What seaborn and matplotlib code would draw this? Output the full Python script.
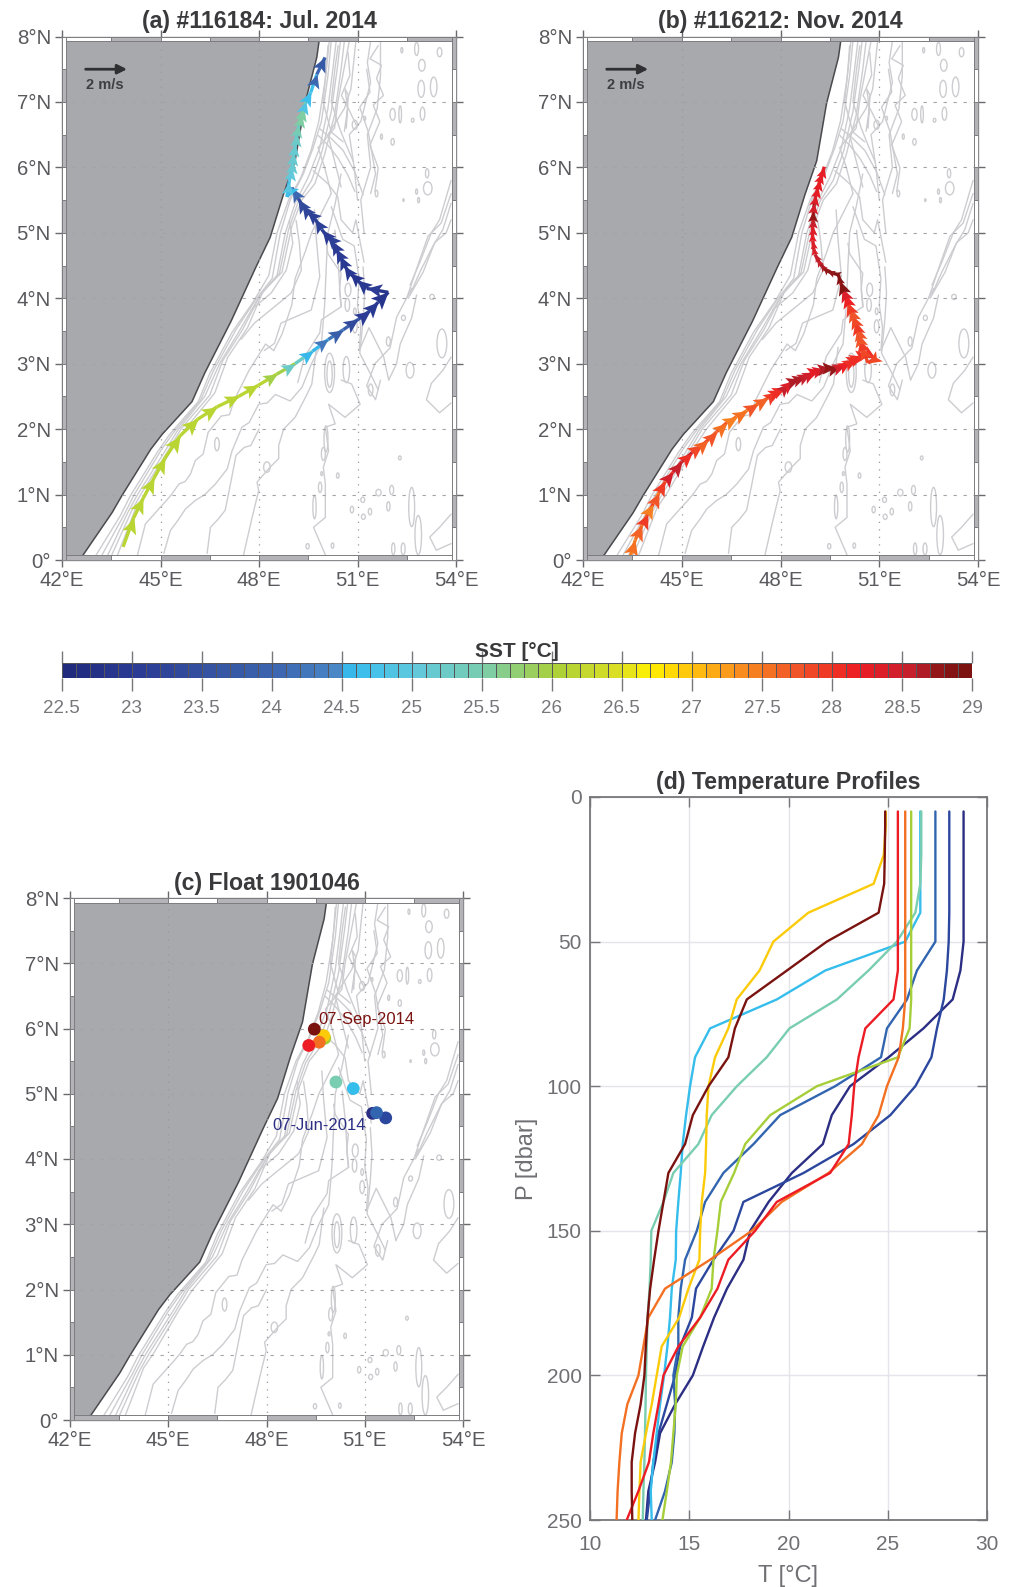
#!/usr/bin/env python3
"""Drifter tracks, float positions and temperature profiles off the Somali coast."""
import matplotlib
matplotlib.use("Agg")
import matplotlib.pyplot as plt
import numpy as np
import pandas as pd
import seaborn as sns
from matplotlib.collections import LineCollection
from matplotlib.colors import BoundaryNorm, LinearSegmentedColormap
from matplotlib.markers import MarkerStyle
from matplotlib.patches import Ellipse, Rectangle
from matplotlib.path import Path
from matplotlib.transforms import Affine2D

sns.set_theme(style="white")
plt.rcParams["font.family"] = ["Liberation Sans", "DejaVu Sans"]

W, H = 1018, 1587
TICK_GREY = "#5a5a5e"
TITLE_GREY = "#3a3a3c"
LAND = "#a8a9ad"
CONTOUR = "#cdcdd1"

# coast line, lon / lat
coast_lon = [42.62, 43.52, 43.82, 44.70, 45.05, 45.96, 46.35, 47.15, 47.90, 48.34, 48.74, 49.10, 49.40, 49.76, 49.83]
coast_lat = [0.06, 0.72, 0.98, 1.69, 1.92, 2.42, 2.86, 3.65, 4.47, 4.93, 5.58, 6.10, 6.98, 7.68, 7.93]

# long depth contours, shelf first, then offshore
c_shelf0 = [(43.02,.06),(43.78,.68),(44.08,.98),(44.92,1.66),(45.28,1.92),(46.15,2.42),(46.5,2.85),(47.18,3.48),(47.82,3.94),(48.3,4.35),(48.55,5.0),(48.9,5.5),(49.28,5.85),(49.58,6.25),(49.82,6.7),(50.02,7.35),(50.14,7.93)]
c_shelf1 = [(43.2,.06),(43.9,.7),(44.2,1.0),(45.02,1.68),(45.4,1.95),(46.22,2.44),(46.62,2.9),(47.3,3.52),(47.9,3.98),(48.4,4.3),(48.65,5.0),(48.95,5.5),(49.35,5.9),(49.65,6.3),(49.9,6.7),(50.1,7.4),(50.2,7.93)]
c_shelf2 = [(43.38,.06),(44.0,.72),(44.3,1.0),(45.12,1.65),(45.52,1.98),(46.35,2.5),(46.8,3.0),(47.4,3.5),(48.0,4.02),(48.55,4.35),(48.8,5.0),(49.1,5.45),(49.5,5.85),(49.85,6.3),(50.1,6.9),(50.25,7.5),(50.35,7.93)]
c_shelf3 = [(43.5,.06),(44.12,.75),(44.42,1.02),(45.22,1.66),(45.62,2.0),(46.5,2.52),(46.9,3.05),(47.5,3.52),(48.05,4.06),(48.62,4.38),(48.9,5.05),(49.2,5.48),(49.6,5.8),(49.92,6.25),(50.2,6.85),(50.38,7.5),(50.48,7.93)]
c_shelf4 = [(43.68,.06),(44.25,.8),(44.55,1.02),(45.35,1.7),(45.75,2.0),(46.65,2.55),(47.05,3.1),(47.65,3.55),(48.12,4.1),(48.7,4.4),(49.0,5.1),(49.3,5.5),(49.7,5.75),(50.0,6.2),(50.3,6.8),(50.5,7.5),(50.6,7.93)]
c_mid1 = [(44.29,.06),(44.54,.55),(45.0,.81),(45.2,.92),(45.35,1.01),(45.56,1.16),(45.75,1.2),(45.91,1.31),(46.06,1.52),(46.3,1.62),(46.45,1.95),(46.85,2.2),(47.1,2.22),(47.25,2.45),(47.7,2.9),(48.2,3.3),(48.45,3.2),(48.7,3.45),(49.0,3.9),(49.1,4.3),(49.4,4.7),(49.6,5.0),(49.9,5.3),(50.2,5.6)]
c_mid2 = [(45.1,.1),(45.3,.45),(45.55,.62),(45.76,.78),(46.06,.91),(46.35,1.0),(46.67,1.16),(47.03,1.39),(47.18,1.67),(47.48,2.03),(47.7,2.1),(47.99,2.38),(48.25,2.4),(48.5,2.53),(48.95,2.43),(49.31,2.64),(49.6,3.0),(49.9,3.3),(50.0,3.9),(50.05,4.5),(50.1,5.0),(50.3,5.4),(50.5,5.9)]
c_mid3 = [(46.42,.1),(46.52,.5),(46.75,.62),(46.97,.76),(47.13,1.16),(47.3,1.6),(47.55,1.72),(47.75,1.75),(48.0,2.0)]
c_mid4 = [(47.53,.08),(47.79,.65),(47.99,1.06),(47.94,1.19),(48.34,1.42),(48.6,1.55),(48.6,1.75),(48.75,2.0),(49.1,2.18),(49.46,2.53),(49.61,2.69),(49.75,3.25)]
c_mid5 = [(50.05,4.84),(50.1,4.68),(50.5,4.38),(50.45,4.13),(50.5,3.87),(49.9,3.67),(49.85,3.47),(49.39,3.11),(49.18,2.71)]
c_mid6 = [(50.2,5.4),(50.55,4.9),(50.9,4.8),(51.05,4.3),(51.0,3.9),(51.1,3.55),(51.05,3.2),(51.35,3.55),(51.5,3.4),(51.8,3.1),(51.95,2.75)]
c_mid7 = [(50.02,.08),(49.66,.5),(50.02,.65),(50.02,1.16),(49.96,1.42),(50.12,1.67),(50.02,2.03),(50.32,2.08),(50.12,2.38),(50.62,2.18),(51.08,2.38),(50.82,2.69),(50.5,2.75)]
c_mid8 = [(48.93,5.19),(49.03,4.84),(48.83,4.43),(48.37,4.08),(47.76,3.82)]
c_mid9 = [(49.13,5.19),(49.23,4.84),(49.29,4.43),(48.98,4.08),(48.47,3.87),(47.86,3.62),(47.45,3.37)]
c_mid10 = [(49.69,5.35),(49.74,4.94),(49.85,4.33),(49.59,3.82),(48.67,3.62),(48.47,3.31),(48.16,3.2)]
c_mid11 = [(50.31,5.04),(50.41,4.58),(50.46,4.13),(50.51,3.87)]
c_mid12 = [(51.17,4.48),(51.22,4.08),(51.17,3.67),(51.07,3.16),(51.43,2.81),(51.63,2.6)]
c_north1 = [(50.2,5.6),(50.0,6.0),(49.8,6.3),(50.3,6.6),(50.4,7.0),(50.55,7.4),(50.75,7.93)]
c_north2 = [(50.5,5.7),(50.3,6.1),(50.1,6.5),(50.6,6.9),(50.8,7.2),(50.95,7.93)]
c_north3 = [(51.0,5.5),(50.9,6.0),(50.75,6.5),(51.1,6.7),(51.4,7.3),(51.3,7.6),(51.4,7.93)]
c_north4 = [(51.2,5.0),(51.1,5.5),(51.4,6.0),(51.3,6.5),(51.6,6.9),(51.7,7.4),(51.7,7.93)]
c_north5 = [(50.6,6.55),(50.7,6.9),(50.62,7.2),(50.72,7.1),(50.66,6.6)]
c_north6 = [(49.65,5.95),(50.1,5.75),(50.4,5.55),(50.5,5.2),(50.85,5.0),(50.95,5.2),(51.2,4.55)]
c_north7 = [(51.28,7.5),(51.38,7.15),(51.07,6.92),(51.33,6.54),(51.43,6.24),(51.55,5.9),(51.4,5.6)]
c_north8 = [(51.63,7.86),(51.38,7.66),(51.73,7.56),(51.58,7.36),(51.79,7.1),(51.48,6.95),(51.68,6.7),(51.38,6.34),(51.63,5.99),(51.53,5.63)]
c_north9 = [(49.8,6.49),(50.1,6.34),(50.41,6.14),(50.71,5.88),(50.92,5.63)]
c_north10 = [(49.85,6.59),(50.2,6.44),(50.56,6.26),(50.92,5.93),(51.17,5.58)]
c_north11 = [(50.1,7.86),(50.05,7.5),(49.95,7.0),(50.2,6.54),(50.56,6.39)]
c_north12 = [(50.41,7.86),(50.31,7.5),(50.2,7.0),(50.46,6.59),(50.66,6.34),(50.87,6.09)]
c_north13 = [(50.71,7.76),(50.77,7.41),(50.51,7.1),(50.77,6.85),(50.97,6.64)]
c_ridge1 = [(52.5,4.0),(52.8,4.45),(53.15,4.95),(53.55,5.15),(53.85,5.6)]
c_ridge2 = [(52.55,4.0),(52.9,4.4),(53.3,4.8),(53.6,5.05),(53.85,5.45)]
c_ridge3 = [(52.6,4.05),(53.0,4.4),(53.35,4.85),(53.7,5.0),(53.85,5.2)]
c_ridge4 = [(52.6,4.2),(52.9,4.55),(53.25,5.0),(53.5,5.2),(53.85,5.8)]
c_spur1 = [(52.65,4.15),(52.19,3.71),(51.99,3.24),(51.53,3.0),(51.28,2.66),(51.55,2.45),(51.7,2.75)]
c_spur2 = [(52.8,4.05),(52.65,3.7),(52.3,3.3),(52.19,3.0),(51.95,2.75)]
c_east1 = [(53.85,3.1),(53.6,2.9),(53.25,2.7),(53.1,2.45),(53.5,2.25),(53.85,2.4)]
c_east2 = [(53.85,.7),(53.5,.5),(53.2,.35),(53.4,.15),(53.85,.25)]
contours = [c_shelf0, c_shelf1, c_shelf2, c_shelf3, c_shelf4, c_mid1, c_mid2, c_mid3, c_mid4, c_mid5, c_mid6, c_mid7,
            c_mid8, c_mid9, c_mid10, c_mid11, c_mid12,
            c_north1, c_north2, c_north3, c_north4, c_north5, c_north6, c_north7, c_north8, c_north9, c_north10,
            c_north11, c_north12, c_north13,
            c_ridge1, c_ridge2, c_ridge3, c_ridge4, c_spur1, c_spur2, c_east1, c_east2]

# closed seamount contours: lon, lat, half width, half height
seamounts = [(52.96,7.56,.1,.09),(52.94,7.2,.1,.13),(53.32,7.23,.1,.15),(53.5,7.76,.07,.07),(52.8,7.81,.06,.1),
             (52.07,6.81,.08,.09),(52.3,6.81,.04,.13),(52.98,6.82,.07,.1),(52.68,6.72,.04,.03),(51.73,6.47,.03,.04),
             (52.07,6.39,.05,.05),(52.35,7.79,.03,.04),(53.12,5.91,.05,.07),(53.14,5.68,.13,.1),(52.8,5.63,.03,.04),
             (51.58,5.6,.04,.05),(52.86,5.5,.03,.04),(52.4,5.5,.02,.02),(50.92,6.65,.08,.07),(51.22,6.75,.03,.03),
             (53.27,4.02,.07,.04),(50.71,4.13,.09,.1),(50.69,3.9,.07,.1),(50.92,3.57,.07,.1),(50.92,3.8,.04,.05),
             (53.57,3.31,.15,.22),(52.4,3.7,.06,.04),(51.94,3.34,.06,.07),(50.15,2.86,.15,.3),(50.15,2.84,.08,.2),
             (50.66,2.91,.1,.2),(50.04,1.85,.06,.2),(49.96,1.62,.06,.1),(49.91,1.32,.03,.03),(50.4,1.29,.04,.04),
             (49.86,1.11,.05,.08),(49.69,.81,.05,.18),(49.48,.21,.05,.04),(50.24,.22,.04,.04),(51.16,.92,.06,.04),
             (51.64,1.03,.08,.05),(52.04,1.07,.06,.07),(50.83,.77,.05,.05),(51.18,.66,.06,.04),(51.38,.74,.05,.05),
             (51.94,.82,.05,.07),(52.09,.17,.05,.09),(52.39,.17,.06,.09),(52.65,.81,.09,.3),(52.85,.38,.1,.3),
             (52.29,1.56,.04,.03),(46.72,1.77,.07,.1),(48.24,1.42,.1,.08),(52.6,2.9,.12,.12),(51.4,2.6,.07,.09)]

# drifter #116184
track_a_lon = [43.86,44.18,44.48,44.81,45.14,45.60,46.13,46.72,47.38,47.98,48.54,49.10,49.63,50.11,50.57,51.03,51.38,51.63,51.94,
               51.28,50.98,50.77,50.60,50.47,50.34,50.21,50.06,49.91,49.71,49.45,49.32,49.20,49.00,48.85,
               48.92,49.00,49.03,49.07,49.11,49.15,49.22,49.30,49.36,49.43,49.58,49.76,50.01]
track_a_lat = [0.20,0.64,0.95,1.26,1.56,1.90,2.15,2.34,2.50,2.67,2.84,3.00,3.19,3.37,3.52,3.68,3.81,3.94,4.09,
               4.15,4.28,4.38,4.50,4.64,4.76,4.88,4.96,5.05,5.21,5.33,5.42,5.52,5.69,5.55,
               5.78,5.99,6.10,6.22,6.36,6.51,6.65,6.80,6.90,7.01,7.15,7.42,7.68]
track_a_sst = [26.1,26.1,26.1,26.1,26.1,26.1,26.1,26.1,26.1,26.1,25.9,25.2,24.5,24.2,23.8,23.3,23.0,22.9,22.8,
               23.0,22.9,22.8,22.9,22.9,23.0,23.0,23.1,23.0,23.1,23.1,23.2,23.3,24.0,24.6,
               24.9,25.0,25.1,25.1,25.1,25.2,25.4,25.5,25.5,24.8,24.6,24.0,23.7]
track_a_speed = [1.1,1.1,1.1,1.1,1.1,1.2,1.2,1.1,1.0,1.0,0.9,0.9,0.9,0.9,1.0,1.0,1.1,1.1,1.3,
                 1.0,1.0,0.9,0.9,0.9,0.9,0.9,0.9,0.9,0.9,0.9,0.9,0.9,0.9,0.8,
                 0.7,0.7,0.7,0.7,0.7,0.7,0.7,0.7,0.8,0.8,0.9,0.9,1.0]

# drifter #116212
track_b_lon = [43.44,43.59,43.79,43.96,44.14,44.30,44.50,44.73,45.00,45.31,45.61,45.81,46.06,46.37,46.67,46.97,47.33,47.63,47.88,
               48.00,48.14,48.27,48.39,48.56,48.74,48.90,49.05,49.20,49.35,49.50,49.65,49.80,49.96,50.10,50.26,50.40,50.51,50.70,50.87,50.66,
               50.46,50.41,50.36,50.31,50.26,50.18,50.11,50.03,49.96,49.88,49.81,
               49.76,49.60,49.40,49.30,49.20,49.12,49.05,49.00,48.98,48.97,48.98,48.99,49.00,49.03,49.08,49.14,49.20,49.27,49.33]
track_b_lat = [0.06,0.31,0.53,0.70,0.86,1.02,1.20,1.34,1.50,1.64,1.75,1.84,1.96,2.10,2.19,2.28,2.39,2.48,2.57,
               2.60,2.63,2.69,2.74,2.77,2.80,2.84,2.88,2.90,2.92,2.93,2.93,2.95,2.98,3.02,3.07,3.10,3.12,3.13,3.08,3.01,
               3.27,3.37,3.47,3.56,3.65,3.75,3.85,3.95,4.06,4.16,4.26,
               4.36,4.38,4.42,4.47,4.53,4.60,4.67,4.78,4.88,5.00,5.11,5.22,5.34,5.46,5.58,5.70,5.81,5.91,6.01]
track_b_sst = [27.4,27.5,27.6,27.9,27.4,27.7,27.9,28.4,28.5,28.0,27.8,27.6,27.7,27.5,27.4,27.5,27.7,27.6,27.9,
               28.0,28.0,28.5,28.3,28.6,28.6,28.5,28.4,28.2,28.3,28.6,28.7,28.7,28.4,28.1,28.0,28.0,28.0,28.0,28.0,27.8,
               27.8,27.9,27.7,27.7,27.9,27.8,27.7,27.9,28.1,28.3,28.8,
               28.8,28.8,28.7,28.7,28.6,28.5,28.5,28.3,28.3,28.2,28.3,28.5,28.7,28.4,28.3,28.2,28.2,28.2,28.2]
track_b_speed = [1.1,1.1,1.1,1.0,1.0,1.0,1.0,1.0,1.0,1.0,1.0,1.0,1.0,1.0,1.0,1.0,1.0,1.0,0.9,
                 0.8,0.8,0.8,0.8,0.8,0.8,0.8,0.8,0.8,0.8,0.8,0.8,0.8,0.8,0.8,0.8,0.8,0.9,0.9,0.9,0.8,
                 0.9,0.9,0.9,0.9,0.9,0.9,0.9,0.9,0.9,0.9,0.9,
                 0.3,0.1,0.1,0.1,0.1,0.1,0.1,0.1,0.1,0.2,0.3,0.4,0.5,0.5,0.5,0.5,0.5,0.5,0.5]

# float 1901046, first profile to last
float_lon = [51.24,51.64,51.36,50.65,50.12,49.78,49.75,49.61,49.29,49.46]
float_lat = [4.70,4.63,4.71,5.08,5.18,5.85,5.89,5.79,5.74,5.99]
profile_colors = ["#2b2e83","#2b479e","#3165b0","#35bdec","#79cdb0","#a6ce39","#fbcb0a","#f36f21","#ed1c24","#7a1310"]

pressure = [5,10,20,30,40,50,60,70,80,90,100,110,120,130,140,150,160,170,180,190,200,210,220,230,240,250]
t_navy = [28.82,28.82,28.82,28.82,28.82,28.82,28.66,28.27,26.8,25.04,23.1,22.18,21.73,20.17,19.0,18.07,17.73,16.9,16.25,15.7,15.18,14.29,13.53,13.28,12.94,12.82]
t_blue = [28.1,28.1,28.1,28.1,28.1,28.07,27.98,27.82,27.48,27.2,26.39,25.13,23.28,20.76,17.73,17.23,16.22,15.34,15.13,14.54,14.29,13.87,13.45,13.19,13.03,12.86]
t_mid_blue = [27.4,27.4,27.4,27.4,27.4,27.4,26.47,25.97,24.96,24.66,22.35,19.58,18.24,16.72,15.8,15.38,14.79,14.57,14.45,14.45,14.2,14.29,14.25,14.12,13.78,13.28]
t_sky = [26.64,26.64,26.64,26.64,26.64,25.88,21.85,19.41,16.05,15.29,15.04,14.84,14.67,14.57,14.45,14.34,14.32,14.12,14.03,13.9,13.73,13.53,13.36,13.19,13.06,13.11]
t_teal = [26.69,26.69,26.69,26.64,26.39,25.46,24.03,22.44,20.05,18.9,17.4,16.13,15.46,14.2,13.7,13.09,13.06,13.0,12.9,12.86,12.82,12.8,12.77,12.74,12.69,12.66]
t_green = [26.18,26.18,26.18,26.18,26.18,26.18,26.18,26.18,26.1,25.51,21.43,19.08,17.82,17.26,16.59,16.42,16.22,16.13,15.55,14.67,14.37,14.32,14.2,14.08,13.87,13.65]
t_yellow = [24.9,24.9,24.8,24.29,21.0,19.24,18.54,17.39,16.97,16.3,15.97,15.88,15.85,15.8,15.63,15.55,15.51,14.96,14.49,13.61,13.36,13.11,12.82,12.55,12.49,12.44]
t_orange = [25.88,25.88,25.88,25.88,25.88,25.88,25.88,25.88,25.76,25.55,24.96,24.54,23.7,22.02,19.66,18.15,16.05,13.78,12.94,12.69,12.44,11.88,11.6,11.48,11.39,11.34]
t_red = [25.51,25.51,25.51,25.51,25.51,25.51,25.51,25.29,23.87,23.53,23.31,23.19,23.03,22.1,19.41,18.32,16.97,16.42,15.55,14.45,13.7,13.45,13.19,12.97,12.44,11.85]
t_dark_red = [24.87,24.87,24.85,24.82,24.54,21.93,19.92,17.9,17.3,16.97,15.97,15.18,14.79,13.95,13.7,13.45,13.23,13.03,12.9,12.81,12.74,12.55,12.27,12.1,12.1,12.13]
profiles = [t_navy, t_blue, t_mid_blue, t_sky, t_teal, t_green, t_yellow, t_orange, t_red, t_dark_red]

# SST colour scale
sst_ticks = [22.5,23,23.5,24,24.5,25,25.5,26,26.5,27,27.5,28,28.5,29]
sst_tick_labels = ["22.5","23","23.5","24","24.5","25","25.5","26","26.5","27","27.5","28","28.5","29"]
sst_anchor_vals = [22.5,23.0,23.5,24.0,24.45,24.55,25.0,25.5,26.0,26.5,26.7,27.0,27.3,27.7,28.2,28.6,28.8,29.0]
sst_anchor_cols = ["#1f2a7c","#2b3a94","#34519f","#3b64ae","#4a88c8","#36bdee","#5fc8df","#79cdb0","#a9d03a","#dfe022","#fff200",
                   "#ffc40e","#f9961d","#f15a29","#ed1c24","#c4202e","#8a1514","#7a1310"]

anchors = [(v - 22.5) / 6.5 for v in sst_anchor_vals]
sst_cmap_full = LinearSegmentedColormap.from_list("sst", list(zip(anchors, sst_anchor_cols)))
sst_edges = np.round(np.arange(22.5, 29.01, 0.1), 1)
sst_centers = (sst_edges[:-1] + sst_edges[1:]) / 2
sst_cmap = LinearSegmentedColormap.from_list("sst_d", [sst_cmap_full((c - 22.5) / 6.5) for c in sst_centers], N=len(sst_centers))
sst_norm = BoundaryNorm(sst_edges, sst_cmap.N)

# arrow head with its tip on the origin
ARROW = Path([(-0.66, -1.4), (0.0, 0.0), (0.66, -1.4), (0.0, -1.08), (-0.66, -1.4)],
             [Path.MOVETO, Path.LINETO, Path.LINETO, Path.LINETO, Path.CLOSEPOLY])


def add_axes(fig, left, right, top, bottom):
    return fig.add_axes([left / W, 1 - bottom / H, (right - left) / W, (bottom - top) / H])


def draw_frame(ax):
    dx, dy = 0.13, 0.075
    lon_edges = np.arange(42, 54.01, 1.5)
    lat_edges = np.arange(0, 8.01, 0.5)
    dark, edge = "#b4b4b8", "#7c7c80"
    for i in range(len(lon_edges) - 1):
        w = lon_edges[i + 1] - lon_edges[i]
        bottom_col = dark if i % 2 == 0 else "white"
        top_col = "white" if i % 2 == 0 else dark
        ax.add_patch(Rectangle((lon_edges[i], 0), w, dy, fc=bottom_col, ec=edge, lw=0.7, zorder=6))
        ax.add_patch(Rectangle((lon_edges[i], 8 - dy), w, dy, fc=top_col, ec=edge, lw=0.7, zorder=6))
    for i in range(len(lat_edges) - 1):
        top_grey = (len(lat_edges) - 2 - i) % 2 == 0
        left_col = "white" if top_grey else dark
        right_col = dark if top_grey else "white"
        ax.add_patch(Rectangle((42, lat_edges[i]), dx, 0.5, fc=left_col, ec=edge, lw=0.7, zorder=6))
        ax.add_patch(Rectangle((54 - dx, lat_edges[i]), dx, 0.5, fc=right_col, ec=edge, lw=0.7, zorder=6))


def draw_map(ax, title):
    ax.set_xlim(42, 54)
    ax.set_ylim(0, 8)
    ax.set_facecolor("white")
    for line in contours:
        lon, lat = zip(*line)
        ax.plot(lon, lat, color=CONTOUR, lw=1.0, zorder=1)
    for lon, lat, rx, ry in seamounts:
        ax.add_patch(Ellipse((lon, lat), 2 * rx, 2 * ry, fc="none", ec=CONTOUR, lw=1.0, zorder=1))

    land_lon = [42.13] + coast_lon + [42.13]
    land_lat = [0.06] + coast_lat + [7.93]
    ax.fill(land_lon, land_lat, color=LAND, lw=0, zorder=2)
    ax.plot(coast_lon, coast_lat, color="#4a4a4e", lw=1.1, zorder=2.5)

    for lon in [45, 48, 51]:
        ax.axvline(lon, color="#9a9a9e", lw=0.9, ls=(0, (1, 5)), zorder=3)
    for lat in range(1, 8):
        ax.axhline(lat, color="#a4a4a8", lw=0.8, ls=(0, (3, 6)), zorder=3)
    draw_frame(ax)

    ax.set_xticks([42, 45, 48, 51, 54], ["42°E", "45°E", "48°E", "51°E", "54°E"])
    ax.set_yticks(range(9), ["0°"] + [f"{i}°N" for i in range(1, 9)])
    ax.tick_params(direction="out", length=5, width=1, color="#6a6a6e", labelsize=14.7,
                   labelcolor=TICK_GREY, pad=3, top=True, right=True, bottom=True, left=True)
    ax.tick_params(axis="x", pad=3)
    for spine in ax.spines.values():
        spine.set_color("#8a8a8e")
        spine.set_linewidth(1.0)
    ax.set_title(title, fontsize=16.7, fontweight="bold", color=TITLE_GREY, pad=6)


def draw_track(ax, lon, lat, sst, speed):
    pts = np.column_stack([lon, lat])
    segs = np.stack([pts[:-1], pts[1:]], axis=1)
    ax.add_collection(LineCollection(segs, colors=sst_cmap(sst_norm(np.array(sst[:-1]))), linewidths=2.4, zorder=4))
    # display aspect of the map axes, for the heading of each arrow head
    for i in range(1, len(lon)):
        heading = np.degrees(np.arctan2((lat[i] - lat[i - 1]) * 65.5, (lon[i] - lon[i - 1]) * 32.8))
        marker = MarkerStyle(ARROW, transform=Affine2D().rotate_deg(heading - 90))
        ax.plot(lon[i], lat[i], marker=marker, ms=10 + 11 * speed[i], mew=0,
                color=sst_cmap(sst_norm(sst[i])), zorder=5)


def draw_scale(ax):
    ax.annotate("", xy=(43.98, 7.5), xytext=(42.72, 7.5),
                arrowprops=dict(arrowstyle="-|>", color="#303033", lw=2.0, shrinkA=0, shrinkB=0, mutation_scale=14), zorder=5)
    ax.text(42.74, 7.26, "2 m/s", fontsize=10.5, fontweight="bold", color="#3f3f42", va="center", zorder=5)


fig = plt.figure(figsize=(W / 100, H / 100), dpi=100, facecolor="white")

ax_a = add_axes(fig, 62, 456, 36.5, 560)
draw_map(ax_a, "(a) #116184: Jul. 2014")
draw_track(ax_a, track_a_lon, track_a_lat, track_a_sst, track_a_speed)
draw_scale(ax_a)

ax_b = add_axes(fig, 583, 978, 36.5, 560)
draw_map(ax_b, "(b) #116212: Nov. 2014")
draw_track(ax_b, track_b_lon, track_b_lat, track_b_sst, track_b_speed)
draw_scale(ax_b)

# colour bar
cax = add_axes(fig, 61.5, 972, 663, 678)
sns.heatmap(np.array([sst_centers]), cmap=sst_cmap, norm=sst_norm, cbar=False, ax=cax,
            linewidths=0.6, linecolor="#55555a", xticklabels=False, yticklabels=False)
cax.set_xticks([(t - 22.5) / 0.1 for t in sst_ticks], sst_tick_labels)
cax.set_yticks([])
cax.tick_params(axis="x", top=True, bottom=True, direction="out", length=9, width=1, color="#77777b",
                labelsize=13.5, labelcolor="#77777b", pad=7)
cax.set_title("SST [°C]", fontsize=15, fontweight="bold", color=TITLE_GREY, pad=4)

ax_c = add_axes(fig, 70, 463, 898, 1420)
draw_map(ax_c, "(c) Float 1901046")
float_df = pd.DataFrame({"lon": float_lon, "lat": float_lat, "n": range(len(float_lon))})
sns.scatterplot(data=float_df, x="lon", y="lat", hue="n", palette=profile_colors, s=85, linewidth=0,
                legend=False, ax=ax_c, zorder=5)
ax_c.set_xlabel("")
ax_c.set_ylabel("")
ax_c.text(49.58, 6.14, "07-Sep-2014", color="#7a1310", fontsize=12, va="center", zorder=6)
ax_c.text(48.18, 4.52, "07-Jun-2014", color="#2b2e83", fontsize=12, va="center", zorder=6)

# temperature profiles
ax_d = add_axes(fig, 590, 987, 797, 1520)
rows = [pd.DataFrame({"T": temps, "P": pressure, "profile": i}) for i, temps in enumerate(profiles)]
profile_df = pd.concat(rows, ignore_index=True)
sns.lineplot(data=profile_df, x="T", y="P", hue="profile", palette=profile_colors, estimator=None, sort=False,
             lw=1.7, legend=False, ax=ax_d, zorder=3)
ax_d.set_xlim(10, 30)
ax_d.set_ylim(250, 0)
ax_d.set_xticks([10, 15, 20, 25, 30])
ax_d.set_yticks([0, 50, 100, 150, 200, 250])
ax_d.grid(True, color="#e4e4ea", lw=1)
ax_d.set_axisbelow(True)
ax_d.tick_params(direction="in", length=7, width=1, color="#77777b", labelsize=15, labelcolor="#707074",
                 top=True, right=True, bottom=True, left=True, pad=6)
ax_d.tick_params(axis="x", pad=11)
for spine in ax_d.spines.values():
    spine.set_color("#77777b")
    spine.set_linewidth(1.3)
ax_d.set_xlabel("T [°C]", fontsize=17, color="#707074", labelpad=8)
ax_d.set_ylabel("P [dbar]", fontsize=17, color="#707074", labelpad=6)
ax_d.set_title("(d) Temperature Profiles", fontsize=16.7, fontweight="bold", color=TITLE_GREY, pad=6)

fig.savefig("out.png", dpi=100)
